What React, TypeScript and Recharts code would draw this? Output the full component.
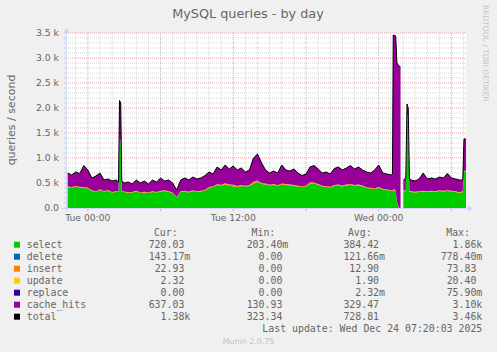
import React from "react";
import { ComposedChart, Area, Line, XAxis, YAxis, CartesianGrid } from "recharts";

// minutes relative to Tue 00:00
const times = [
  -100, -80, -60, -40, -20, 0, 20, 40, 60, 80,
  100, 120, 140, 152, 157, 163, 168, 180, 200, 220,
  240, 260, 280, 300, 320, 340, 360, 380, 400, 420,
  440, 460, 480, 500, 520, 540, 560, 580, 600, 620,
  640, 660, 680, 700, 720, 740, 760, 780, 800, 820,
  840, 860, 880, 900, 920, 940, 960, 980, 1000, 1020,
  1040, 1060, 1080, 1100, 1120, 1140, 1160, 1180, 1200, 1220,
  1240, 1260, 1280, 1300, 1320, 1340, 1360, 1380, 1400, 1420,
  1440, 1460, 1480, 1500, 1508, 1512, 1524, 1530, 1540, 1548,
  1552, 1558, 1562, 1574, 1580, 1586, 1592, 1600, 1620, 1640,
  1660, 1680, 1700, 1720, 1740, 1760, 1780, 1800, 1820, 1840,
  1856, 1862, 1872,
];

const select = [
  420, 400, 430, 410, 400, 390, 340, 320, 360, 330,
  340, 310, 320, 320, 1400, 1300, 320, 320, 300, 310,
  330, 300, 310, 300, 320, 310, 330, 340, 320, 300,
  210, 320, 330, 310, 340, 320, 330, 350, 400, 420,
  460, 440, 470, 450, 430, 420, 440, 430, 440, 480,
  520, 480, 470, 450, 460, 440, 470, 460, 450, 440,
  430, 420, 430, 480, 490, 460, 430, 420, 410, 440,
  450, 430, 450, 460, 440, 450, 430, 400, 390, 380,
  400, 370, 360, 340, 330, 360, 340, 120, 2, 0.2,
  null, null, 330, 340, 1860, 1700, 330, 320, 310, 320,
  330, 320, 330, 320, 340, 330, 340, 330, 320, 300,
  320, 720, 720,
];

const insert = [
  14, 12, 15, 13, 16, 14, 12, 11, 13, 10,
  12, 11, 12, 10, 20, 18, 11, 10, 11, 9,
  12, 10, 11, 9, 12, 10, 13, 11, 12, 10,
  8, 12, 13, 12, 14, 12, 13, 14, 16, 15,
  18, 16, 20, 17, 30, 16, 17, 15, 16, 40,
  25, 18, 16, 15, 16, 15, 18, 16, 16, 17,
  15, 14, 15, 30, 18, 17, 15, 15, 14, 17,
  18, 16, 17, 18, 16, 17, 16, 15, 14, 15,
  16, 14, 13, 13, 13, 15, 14, 10, 2, 1,
  null, null, 12, 13, 20, 18, 12, 12, 11, 12,
  14, 12, 13, 12, 13, 13, 14, 13, 12, 12,
  12, 23, 23,
];

const update = [
  2, 2, 2, 2, 3, 2, 2, 1, 2, 2,
  2, 1, 2, 2, 3, 3, 2, 2, 2, 1,
  2, 2, 2, 1, 2, 2, 2, 2, 2, 2,
  1, 2, 2, 2, 2, 2, 2, 2, 2, 2,
  3, 2, 3, 2, 4, 2, 2, 2, 2, 5,
  3, 2, 2, 2, 2, 2, 2, 2, 2, 2,
  2, 2, 2, 3, 2, 2, 2, 2, 2, 2,
  2, 2, 2, 2, 2, 2, 2, 2, 2, 2,
  2, 2, 2, 2, 2, 3, 2, 1, 0, 0,
  null, null, 2, 2, 3, 3, 2, 2, 2, 2,
  2, 2, 2, 2, 2, 2, 2, 2, 2, 2,
  2, 2, 2,
];

const cacheHits = [
  264, 246, 273, 265, 431, 354, 246, 308, 325, 218,
  226, 218, 226, 188, 727, 779, 207, 168, 207, 160,
  216, 188, 217, 170, 226, 198, 255, 187, 226, 188,
  141, 226, 255, 236, 264, 246, 255, 284, 302, 243,
  339, 302, 367, 311, 376, 322, 341, 273, 302, 475,
  532, 400, 272, 233, 262, 243, 370, 282, 272, 321,
  253, 214, 233, 307, 340, 301, 253, 283, 254, 331,
  350, 312, 331, 370, 322, 351, 312, 303, 294, 363,
  442, 314, 305, 305, 335, 3082, 3084, 2769, 2836, 2819,
  null, null, 216, 245, 197, 279, 236, 226, 217, 246,
  354, 246, 255, 246, 265, 255, 334, 255, 246, 246,
  226, 635, 635,
];

// delete (~0.12/s) and replace (~0/s) are too small to show on this scale

const xLabelTicks = [0, 720, 1440];
const xLabels = ["Tue 00:00", "Tue 12:00", "Wed 00:00"];

const seriesNames = ["select", "delete", "insert", "update", "replace", "cache_hits", "total"];
const seriesColors = ["#00CC00", "#0066B3", "#FF8000", "#FFCC00", "#330099", "#990099", "#000000"];
const curVals = ["720.03", "143.17m", "22.93", "2.32", "0.00", "637.03", "1.38k"];
const minVals = ["203.40m", "0.00", "0.00", "0.00", "0.00", "130.93", "323.34"];
const avgVals = ["384.42", "121.66m", "12.90", "1.90", "2.32m", "329.47", "728.81"];
const maxVals = ["1.86k", "778.40m", "73.83", "20.40", "75.90m", "3.10k", "3.46k"];

const data = times.map((t, i) => {
  const s = select[i];
  const total =
    s == null ? null : s + (insert[i] as number) + (update[i] as number) + (cacheHits[i] as number);
  return {
    t,
    select: s,
    insert: insert[i],
    update: update[i],
    cache_hits: cacheHits[i],
    total,
  };
});

const yTicks: number[] = [];
for (let v = 0; v <= 3500; v += 100) yTicks.push(v);
const yMinor = yTicks.filter((v) => v % 500 !== 0);
const yMajor = yTicks.filter((v) => v % 500 === 0 && v > 0);
const xHours: number[] = [];
for (let m = -60; m <= 1860; m += 60) xHours.push(m);
const xMajor = xHours.filter((m) => m % 360 === 0);
const xMinor = xHours.filter((m) => m % 360 !== 0);

const FONT = "DejaVu Sans, sans-serif";
const MONO = "DejaVu Sans Mono, monospace";
const TXT = "#666666";

function fmtY(v: number) {
  if (v % 500 !== 0) return "";
  if (v === 0) return "0.0";
  return (v / 1000).toFixed(1) + " k";
}

function fmtX(v: number) {
  const i = xLabelTicks.indexOf(v);
  return i >= 0 ? xLabels[i] : "";
}

const colCur = 190.3;
const colMin = 288.3;
const colAvg = 385;
const colMax = 482.3;
const padUnit = (s: string) => (/[a-z]$/i.test(s) ? s : s + "\u00A0");

export default function App() {
  return (
    <div
      style={{
        position: "absolute",
        left: 0,
        top: 0,
        width: 497,
        height: 352,
        background: "#F0F0F0",
        overflow: "hidden",
      }}
    >
      <ComposedChart
        width={497}
        height={352}
        data={data}
        margin={{ top: 33, right: 31, left: 0, bottom: 124 }}
      >
        <CartesianGrid
          fill="#FFFFFF"
          stroke="#D4D4D4"
          strokeDasharray="1 1"
          horizontalValues={yMinor}
          verticalValues={xMinor}
        />
        <CartesianGrid
          stroke="#F0A0A0"
          strokeDasharray="1 1"
          horizontalValues={yMajor}
          verticalValues={xMajor}
        />
        <XAxis
          dataKey="t"
          type="number"
          domain={[-108, 1872]}
          allowDataOverflow
          ticks={xMajor}
          interval={0}
          height={20}
          tickSize={3}
          tickMargin={3}
          axisLine={false}
          tickLine={{ stroke: "#F0A0A0" }}
          tickFormatter={fmtX}
          tick={{ fontSize: 9.2, fill: TXT, fontFamily: FONT }}
        />
        <YAxis
          type="number"
          domain={[0, 3500]}
          allowDataOverflow
          ticks={yTicks}
          interval={0}
          width={66}
          tickSize={2}
          tickMargin={5}
          axisLine={false}
          tickLine={{ stroke: "#C8C8D8" }}
          tickFormatter={fmtY}
          tick={{ fontSize: 9.3, fill: TXT, fontFamily: FONT }}
        />
        <Area type="linear" dataKey="select" stackId="a" stroke="none" fill="#00CC00" fillOpacity={1} isAnimationActive={false} />
        <Area type="linear" dataKey="insert" stackId="a" stroke="none" fill="#FF8000" fillOpacity={1} isAnimationActive={false} />
        <Area type="linear" dataKey="update" stackId="a" stroke="none" fill="#FFCC00" fillOpacity={1} isAnimationActive={false} />
        <Area type="linear" dataKey="cache_hits" stackId="a" stroke="none" fill="#990099" fillOpacity={1} isAnimationActive={false} />
        <Line type="linear" dataKey="total" stroke="#000000" strokeWidth={1} dot={false} isAnimationActive={false} />
      </ComposedChart>

      <svg
        width={497}
        height={352}
        style={{ position: "absolute", left: 0, top: 0, pointerEvents: "none" }}
      >
        {/* axes with arrows */}
        <line x1={66.5} y1={212} x2={66.5} y2={30} stroke="#CFD6F8" strokeWidth={1} />
        <polygon points="63.5,33 66.5,27.5 69.5,33" fill="#CFD6F8" />
        <line x1={62} y1={208.5} x2={469} y2={208.5} stroke="#CFD6F8" strokeWidth={1} />
        <polygon points="468,205.5 473.5,208.5 468,211.5" fill="#CFD6F8" />

        <text x={248} y={17.5} textAnchor="middle" fontFamily={FONT} fontSize={12.8} fill={TXT}>
          MySQL queries - by day
        </text>
        <text
          transform="translate(14.5,120) rotate(-90)"
          textAnchor="middle"
          fontFamily={FONT}
          fontSize={11}
          fill={TXT}
        >
          queries / second
        </text>
        <text
          transform="translate(483,5) rotate(90)"
          fontFamily={FONT}
          fontSize={7.5}
          fill="#C4C4C4"
        >
          RRDTOOL / TOBI OETIKER
        </text>

        <g fontFamily={MONO} fontSize={9.9} fill={TXT}>
          <text x={177.7} y={235.8} textAnchor="end">Cur:</text>
          <text x={275.3} y={235.8} textAnchor="end">Min:</text>
          <text x={371.7} y={235.8} textAnchor="end">Avg:</text>
          <text x={470} y={235.8} textAnchor="end">Max:</text>
          {seriesNames.map((name, i) => {
            const cy = 244.7 + i * 12;
            const by = cy + 3.5;
            return (
              <g key={name}>
                <rect x={14} y={cy - 3} width={6} height={6} fill={seriesColors[i]} />
                <text x={26.7} y={by}>{name}</text>
                <text x={colCur} y={by} textAnchor="end">{padUnit(curVals[i])}</text>
                <text x={colMin} y={by} textAnchor="end">{padUnit(minVals[i])}</text>
                <text x={colAvg} y={by} textAnchor="end">{padUnit(avgVals[i])}</text>
                <text x={colMax} y={by} textAnchor="end">{padUnit(maxVals[i])}</text>
              </g>
            );
          })}
          <text x={482.3} y={332.2} textAnchor="end">
            Last update: Wed Dec 24 07:20:03 2025
          </text>
        </g>
        <text x={248.5} y={343.5} textAnchor="middle" fontFamily={FONT} fontSize={7.85} fill="#C0C0C0">
          Munin 2.0.75
        </text>
      </svg>
    </div>
  );
}
